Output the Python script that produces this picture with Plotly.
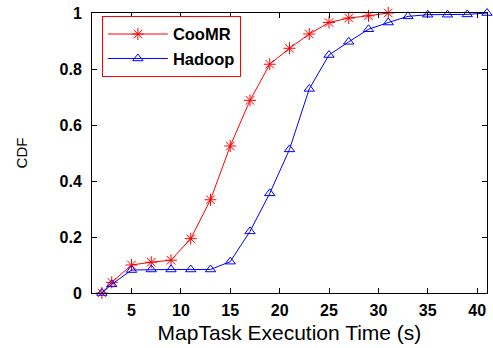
import plotly.graph_objects as go

coomr_x = [2, 3, 5, 7, 9, 11, 13, 15, 17, 19, 21, 23, 25, 27, 29, 31]
coomr_y = [0.0, 0.038, 0.100, 0.110, 0.117, 0.194, 0.333, 0.525, 0.688, 0.817, 0.874, 0.925, 0.966, 0.982, 0.990, 1.0]

hadoop_x = [2, 3, 5, 7, 9, 11, 13, 15, 17, 19, 21, 23, 25, 27, 29, 31, 33, 35, 37, 39, 41]
hadoop_y = [0.0, 0.031, 0.082, 0.084, 0.084, 0.084, 0.084, 0.112, 0.220, 0.356, 0.513, 0.729, 0.850, 0.897,
            0.942, 0.966, 0.988, 0.994, 0.994, 0.995, 1.0]

x_ticks = [5, 10, 15, 20, 25, 30, 35, 40]
y_ticks = [0, 0.2, 0.4, 0.6, 0.8, 1]

FONT = "Liberation Sans, Arial, Helvetica, sans-serif"

fig = go.Figure()
fig.add_trace(go.Scatter(
    x=coomr_x, y=coomr_y, mode="lines+markers", name="CooMR", legendgroup="a",
    line=dict(color="#ff0000", width=1),
    marker=dict(symbol="asterisk-open", size=10, line=dict(color="#ff0000", width=1)),
    cliponaxis=False,
))
fig.add_trace(go.Scatter(
    x=hadoop_x, y=hadoop_y, mode="lines+markers", name="Hadoop", legendgroup="b",
    line=dict(color="#0000ff", width=1),
    marker=dict(symbol="triangle-up-open", size=9, color="#0000ff", line=dict(color="#0000ff", width=1)),
    cliponaxis=False,
))

axis_common = dict(
    showgrid=False, zeroline=False, showline=True, linecolor="black", linewidth=1,
    mirror="ticks", ticks="inside", ticklen=5, tickcolor="black", tickwidth=1,
    tickfont=dict(family=FONT, size=16, color="black", weight="bold"),
)

fig.update_layout(
    width=493, height=348,
    margin=dict(l=92, r=5, t=11, b=55),
    paper_bgcolor="white", plot_bgcolor="white",
    font=dict(family=FONT, color="black"),
    xaxis=dict(range=[1, 41], tickvals=x_ticks, ticklabelstandoff=3,
               title=dict(text="MapTask Execution Time (s)", font=dict(family=FONT, size=21, color="black"), standoff=7),
               **axis_common),
    yaxis=dict(range=[0, 1], tickvals=y_ticks, ticklabelstandoff=6,
               title=dict(text="CDF", font=dict(family=FONT, size=15, color="black"), standoff=28),
               **axis_common),
    legend=dict(
        x=0.025, y=0.99, xanchor="left", yanchor="top",
        bgcolor="white", bordercolor="#ff0000", borderwidth=1,
        font=dict(family=FONT, size=16.5, color="black", weight="bold"),
        itemwidth=60, tracegroupgap=0,
    ),
    showlegend=True,
)

fig.write_html("out.html")
